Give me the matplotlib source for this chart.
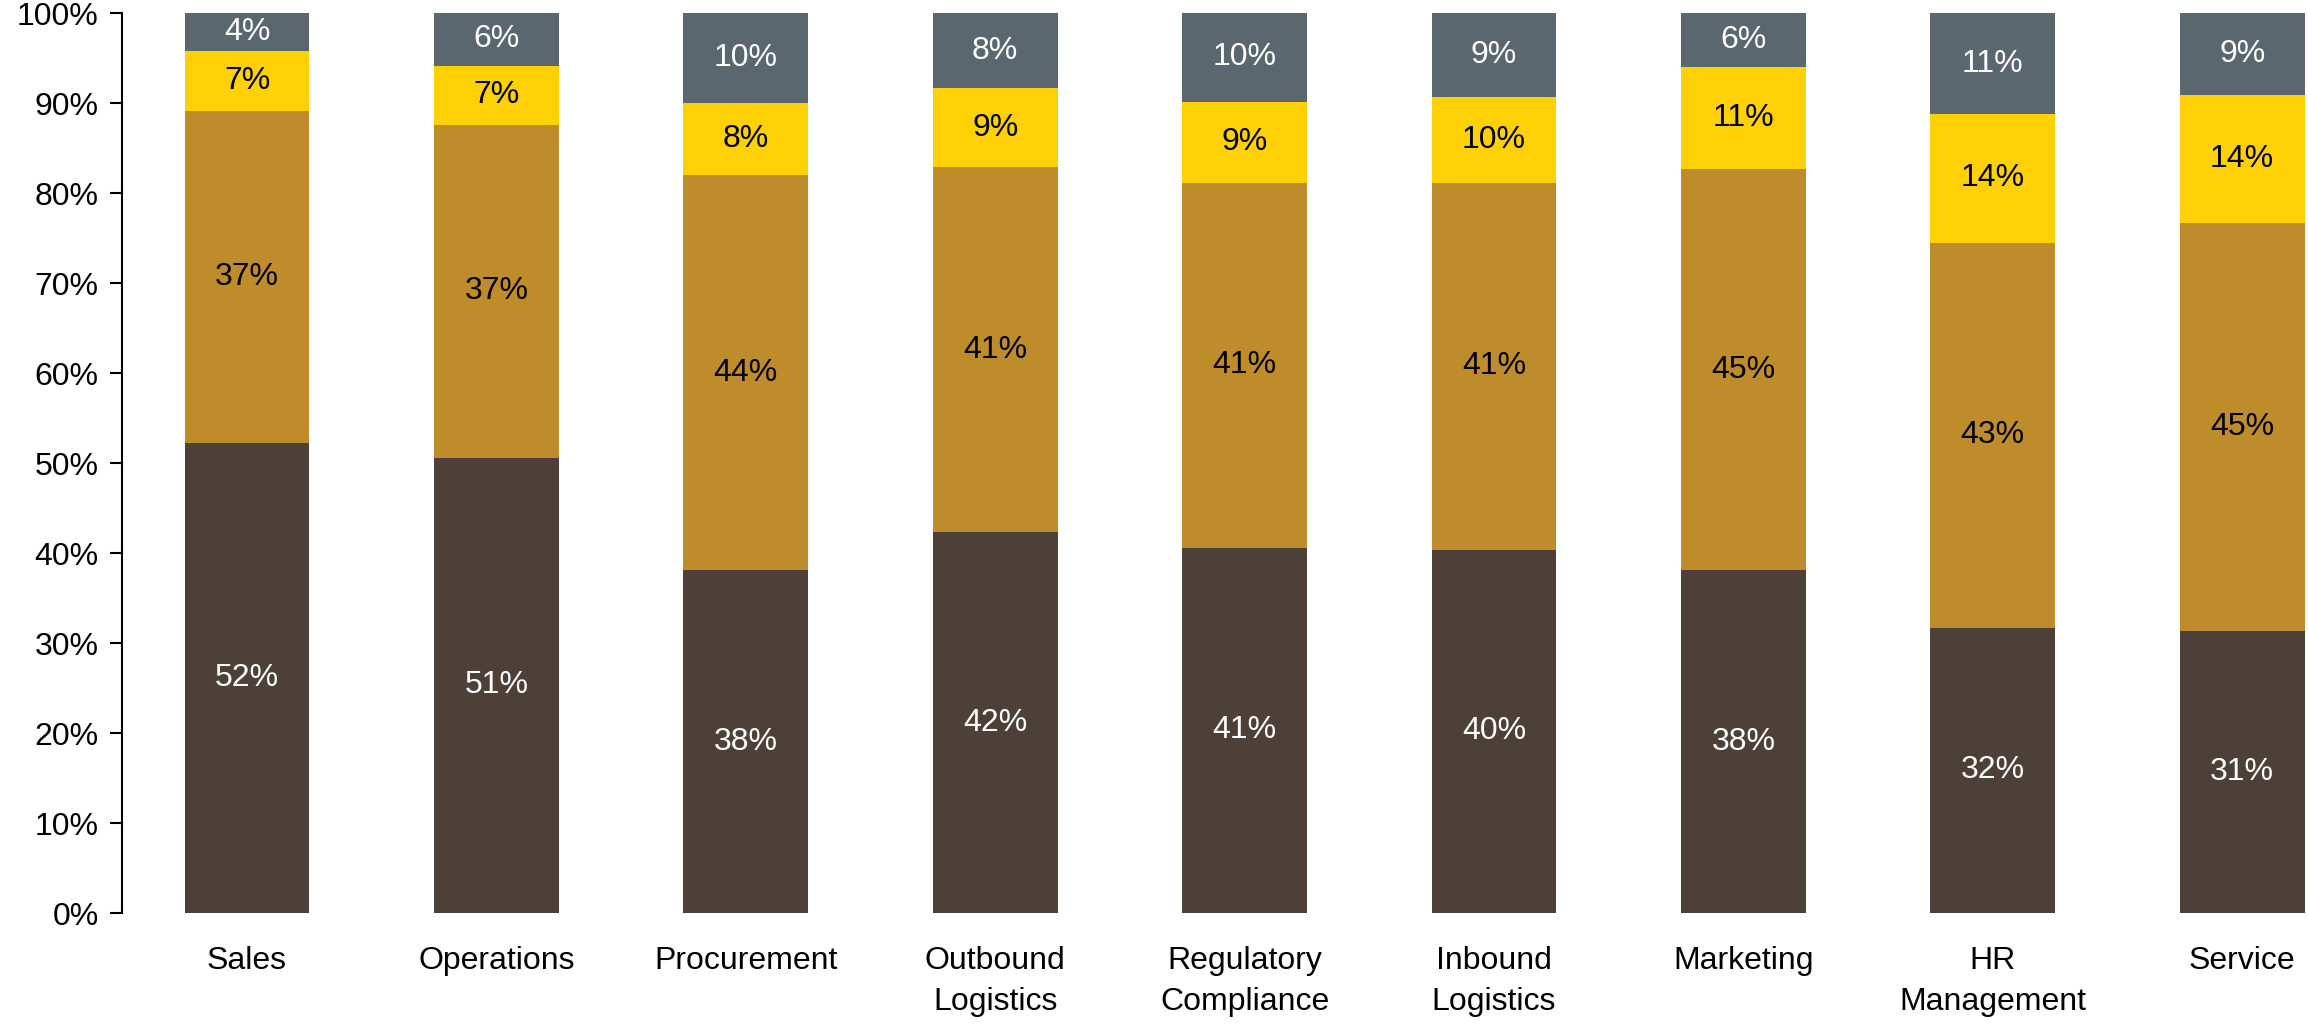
import matplotlib.pyplot as plt
from matplotlib.ticker import MultipleLocator, PercentFormatter
from matplotlib import font_manager

# share of respondents per function, in percent (each bar sums to 100)
categories = ['Sales', 'Operations', 'Procurement', 'Outbound\nLogistics',
              'Regulatory\nCompliance', 'Inbound\nLogistics', 'Marketing',
              'HR\nManagement', 'Service']
level_1 = [52.3, 50.6, 38.1, 42.3, 40.6, 40.4, 38.1, 31.7, 31.4]
level_2 = [36.8, 37.0, 43.9, 40.6, 40.6, 40.7, 44.6, 42.8, 45.3]
level_3 = [6.7, 6.6, 8.0, 8.8, 9.0, 9.6, 11.3, 14.3, 14.2]
level_4 = [4.2, 5.8, 10.0, 8.3, 9.8, 9.3, 6.0, 11.2, 9.1]

series = [level_1, level_2, level_3, level_4]
colours = ['#4D4039', '#BF8C2C', '#FDD105', '#5B676E']
text_colours = ['white', 'black', 'black', 'white']

names = {f.name for f in font_manager.fontManager.ttflist}
main_font = 'Liberation Sans Narrow' if 'Liberation Sans Narrow' in names else 'Liberation Sans'
plt.rcParams['font.family'] = [main_font, 'DejaVu Sans']

fig = plt.figure(figsize=(23.08, 10.29), dpi=100)
ax = fig.add_axes([0.053, 0.1127, 0.9725, 0.8743])

x = range(len(categories))
bottom = [0.0] * len(categories)
for vals, col, tcol in zip(series, colours, text_colours):
    bars = ax.bar(x, vals, width=0.5, bottom=bottom, color=col, linewidth=0)
    for b, v, base in zip(bars, vals, bottom):
        ax.text(b.get_x() + b.get_width() / 2, base + v / 2, f'{v:.0f}%',
                ha='center', va='center', color=tcol, fontsize=23)
    bottom = [b0 + v for b0, v in zip(bottom, vals)]

ax.set_xlim(-0.5, len(categories) - 0.5)
ax.set_ylim(0, 100)
ax.yaxis.set_major_locator(MultipleLocator(10))
ax.yaxis.set_major_formatter(PercentFormatter(decimals=0))
ax.set_xticks(list(x))
ax.set_xticklabels(categories, fontsize=23, linespacing=1.45, va='top')
ax.tick_params(axis='x', length=0, pad=24)
ax.tick_params(axis='y', length=9, width=1.5, pad=8, labelsize=23)

for side in ['top', 'right', 'bottom']:
    ax.spines[side].set_visible(False)
ax.spines['left'].set_linewidth(1.5)

fig.savefig('out.png', dpi=100)
